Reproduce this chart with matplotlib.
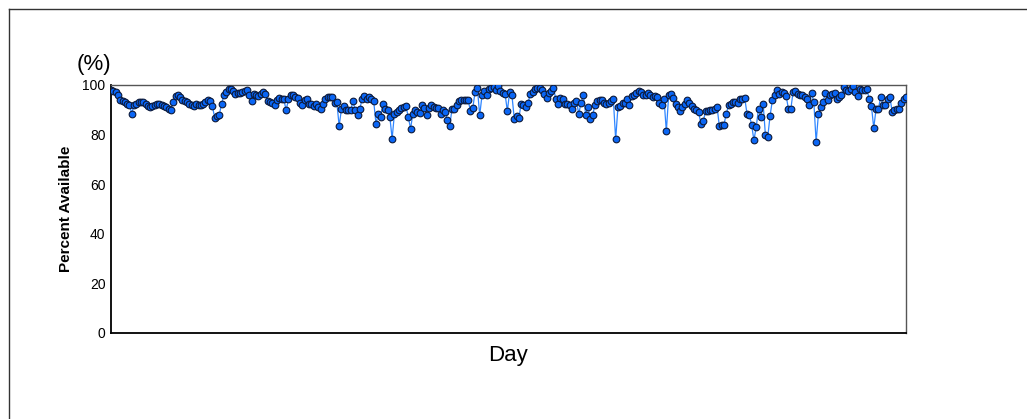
import matplotlib.pyplot as plt
import numpy as np
from matplotlib.lines import Line2D

plt.rcParams["font.family"] = ["Liberation Sans", "DejaVu Sans"]

# daily availability (%), in order of day
seg1 = [98, 97.5, 97, 96, 94, 93.5, 93, 92.5, 92, 88.5, 92, 92.5, 93, 93, 93, 92.5, 91.5, 91, 91.5, 92,
        92.5, 92.5, 92, 91.5, 91, 90.5, 90, 93, 95.5, 96, 95, 94, 93.5, 93, 92.5, 92, 91.5, 92.5, 92, 92,
        92.5, 93, 94]
seg2 = [93.4, 91.5, 86.7, 87.5, 88, 92.5, 95.8, 97.2, 98.3, 98.5, 97.4, 96.5, 96.9, 96.9, 97.2, 97.4, 97.8,
        96.1, 93.4, 96.5, 96.1, 95.6, 96.5, 97.2, 96.5, 93.4, 93.1, 92.9, 91.8, 93.8, 94.8, 94.5, 94.2, 89.8,
        94.2, 96.1, 96.1, 95.2, 94.8, 92.9, 91.8, 93.8, 94.2, 92.5, 92.5, 91.5]
seg3 = [92.5, 91.1, 90.5, 92.5, 94.5, 95.2, 95.2, 95.2, 92.9, 93.1, 83.5, 90.2, 91.5, 89.8, 89.8, 89.8, 93.4,
        89.8, 87.8, 90.5, 94.5, 95.6, 94.5, 95.2, 94.5, 93.4, 84.4, 88.4, 87.1, 92.5, 90.2, 89.8, 87.1, 78.4,
        88.4, 89.1, 89.8, 90.7, 91.1, 91.5, 87.1, 82.4, 88.4, 89.8]
seg4 = [89.1, 88.8, 92.1, 90.7, 87.8, 90.7, 91.8, 91, 90.7, 90.7, 88.4, 89.8, 89, 85.8, 83.5, 90.5, 90.5,
        91.8, 93.4, 93.8, 93.8, 93.8, 93.8, 89.4, 90.7, 97.2, 98.8, 87.8, 95.8, 97.4, 96.1, 98.5, 98.8, 99.2,
        98, 99.6, 97.4, 96.9, 96.5, 89.5, 97.2, 95.8, 86.4]
seg5 = [87.5, 86.7, 92.5, 91.8, 91.1, 92.9, 96.5, 97.2, 98.5, 98.8, 98.8, 97.8, 96.5, 94.8, 96.9, 97.4, 98.8,
        94.5, 92.5, 94.8, 94.2, 92.5, 92.5, 92.1, 90.5, 92.9, 93.4, 88.4, 92.9, 95.8, 88.0, 91.1, 86.4, 87.8,
        91.8, 93.4, 93.8, 93.8, 92.9, 92.5, 92.9, 93.4, 94.2]
seg6 = [78.1, 91.1, 91.5, 92.9, 92.9, 94.5, 92.1, 95.6, 96.1, 96.9, 97.4, 97.2, 95.8, 96.1, 96.9, 96.1, 95.2,
        95.6, 95.2, 92.9, 91.8, 94.2, 81.3, 95.8, 96.5, 94.8, 92.5, 91.1, 89.4, 91.1, 92.5, 93.8, 92.9, 91.5,
        90.5, 89.8, 89.1, 84.4, 85.4, 89.4, 89.4, 89.8]
seg7 = [89.8, 90.2, 91.1, 83.5, 83.7, 84, 88.4, 91.8, 92.5, 93.1, 93.1, 92.9, 94.2, 94.5, 94.8, 88.4, 88.0,
        84.0, 77.7, 83.1, 90.5, 87.1, 92.5, 79.7, 79.0, 87.5, 93.8, 95.8, 97.8, 96.5, 97.2, 96.9, 95.6, 90.2,
        90.2, 97.2, 97.4, 96.5, 96.1, 95.8, 95.2, 94.5]
seg8 = [91.8, 96.9, 93.1, 77.0, 88.4, 91.1, 93.1, 96.9, 93.8, 96.1, 96.5, 96.9, 94.5, 95.2, 96.1, 99.2, 97.8,
        97.4, 98.3, 99.6, 97.2, 95.6, 98.5, 97.8, 97.8, 98.3, 94.5, 91.5, 82.7, 90.2, 90.2, 95.2, 92.1, 92.1,
        94.5, 95.2, 89.1, 89.8, 90.2, 90.5, 92.9, 94.2, 95.2]

percent = np.array(seg1 + seg2 + seg3 + seg4 + seg5 + seg6 + seg7 + seg8)
days = np.arange(1, len(percent) + 1)

y_ticks = [0, 20, 40, 60, 80, 100]

fig = plt.figure(figsize=(10.27, 4.19), dpi=100)
ax = fig.add_axes([111 / 1027, 1 - 333 / 419, 795 / 1027, 248 / 419])

ax.plot(days, percent, color="#2f86ff", lw=0.9, zorder=2)
ax.plot(days, percent, "o", ms=4.8, mfc="#0a66f5", mec="#0d1a3a", mew=0.8, zorder=3)

ax.set_xlim(days[0], days[-1])
ax.set_ylim(0, 100)
ax.set_yticks(y_ticks)
ax.set_xticks([])
ax.tick_params(axis="y", length=0, pad=4, labelsize=10)

for side in ["left", "bottom"]:
    ax.spines[side].set_color("black")
    ax.spines[side].set_linewidth(1.3)
for side in ["top", "right"]:
    ax.spines[side].set_color("#555555")
    ax.spines[side].set_linewidth(1.0)

ax.set_ylabel("Percent Available", fontsize=11, fontweight="bold", labelpad=7)
ax.set_xlabel("Day", fontsize=16, labelpad=9)
ax.text(-0.021, 1.04, "(%)", transform=ax.transAxes, fontsize=16, ha="center", va="bottom")

# outer frame (only top and left edges fall inside the image)
fig.add_artist(Line2D([9 / 1027, 1], [1 - 9 / 419, 1 - 9 / 419], color="#333333", lw=1.0))
fig.add_artist(Line2D([9 / 1027, 9 / 1027], [0, 1 - 9 / 419], color="#333333", lw=1.0))

fig.savefig("out.png", dpi=100)
